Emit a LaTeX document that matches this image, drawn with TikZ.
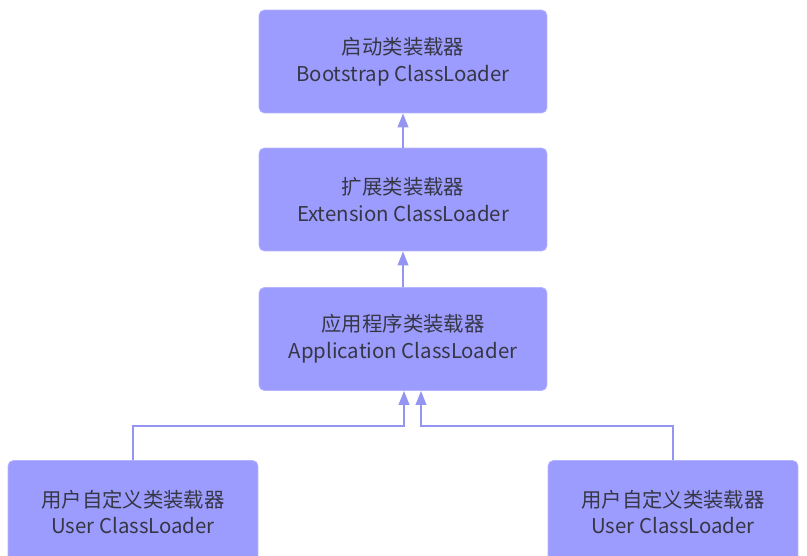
\documentclass[tikz,border=0pt]{standalone}
\usepackage{fontspec}
\setmainfont{Noto Sans CJK SC}
\usetikzlibrary{arrows.meta}

\definecolor{boxfill}{HTML}{9C9CFF}
\definecolor{linecol}{HTML}{9494F2}
\definecolor{textcol}{HTML}{363645}

\begin{document}
\begin{tikzpicture}[x=0.02cm,y=-0.02cm,
	loader/.style={draw=boxfill!75!white, fill=boxfill, rounded corners=3pt,
		minimum width=5.76cm, minimum height=2.06cm, align=center, text=textcol,
		font=\fontsize{11.6pt}{15.2pt}\selectfont},
	userloader/.style={loader, minimum width=5cm},
	link/.style={draw=linecol, line width=1.2pt, -{Triangle[width=6pt,length=8pt]}}]
	\useasboundingbox (0,0) rectangle (807,555);
	\clip (0,0) rectangle (807,555);
	
	% loaders
	\node[loader] (boot) at (403,61.5) {启动类装载器\\Bootstrap ClassLoader};
	\node[loader] (ext) at (403,199.5) {扩展类装载器\\Extension ClassLoader};
	\node[loader] (app) at (403,339) {应用程序类装载器\\Application ClassLoader};
	\node[userloader] (userA) at (133,512) {用户自定义类装载器\\User ClassLoader};
	\node[userloader] (userB) at (673,512) {用户自定义类装载器\\User ClassLoader};
	
	% parent links
	\coordinate (bendA) at (404,426);
	\coordinate (bendB) at (421,426);
	\draw[link] (ext) -- (boot);
	\draw[link] (app) -- (ext);
	\draw[link] (userA) |- (bendA) -- (bendA |- app.south);
	\draw[link] (userB) |- (bendB) -- (bendB |- app.south);
	
\end{tikzpicture}
\end{document}
